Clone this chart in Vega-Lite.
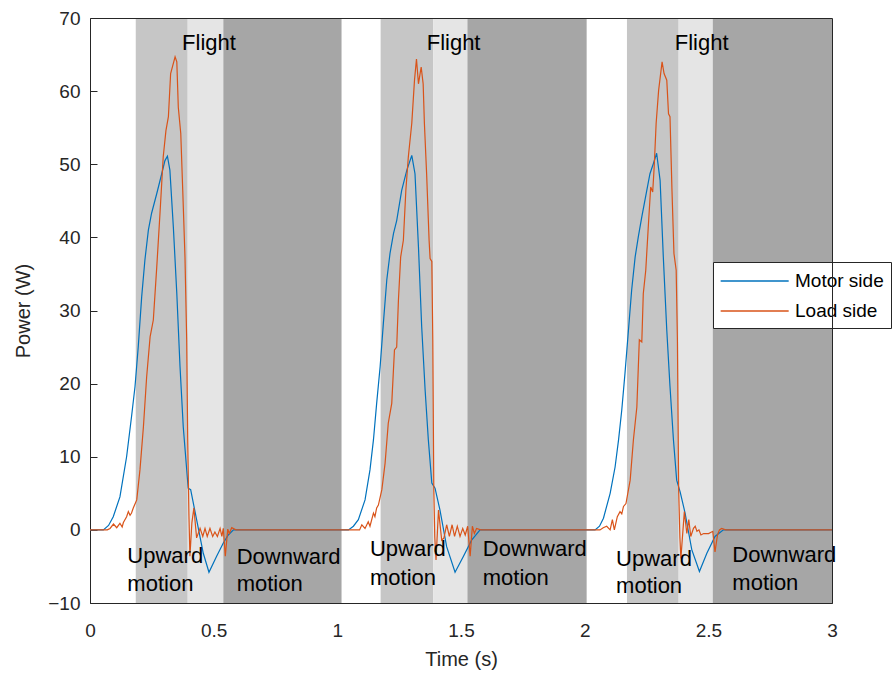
{
  "$schema": "https://vega.github.io/schema/vega-lite/v6.json",
  "width": 742,
  "height": 585,
  "autosize": {"type": "none"},
  "padding": {"left": 90, "top": 18, "right": 61, "bottom": 70},
  "background": "white",
  "config": {
    "font": "Liberation Sans",
    "view": {"stroke": null},
    "axis": {
      "labelFont": "Liberation Sans",
      "titleFont": "Liberation Sans",
      "labelFontSize": 19,
      "titleFontSize": 20,
      "titleFontWeight": "normal",
      "labelColor": "#262626",
      "titleColor": "#262626",
      "domainColor": "#262626",
      "tickColor": "#262626",
      "labelFlush": false,
      "grid": false
    }
  },
  "datasets": {
    "phases": [
      {"start": 0.185, "end": 0.395, "phase": "up"},
      {"start": 0.395, "end": 0.539, "phase": "flight"},
      {"start": 0.539, "end": 1.017, "phase": "down"},
      {"start": 1.175, "end": 1.388, "phase": "up"},
      {"start": 1.388, "end": 1.526, "phase": "flight"},
      {"start": 1.526, "end": 2.008, "phase": "down"},
      {"start": 2.171, "end": 2.380, "phase": "up"},
      {"start": 2.380, "end": 2.518, "phase": "flight"},
      {"start": 2.518, "end": 3.0, "phase": "down"}
    ],
    "power": [
      {"t": 0.0, "p": 0, "side": "Motor side"},
      {"t": 0.054, "p": 0, "side": "Motor side"},
      {"t": 0.075, "p": 0.6, "side": "Motor side"},
      {"t": 0.094, "p": 1.8, "side": "Motor side"},
      {"t": 0.121, "p": 4.5, "side": "Motor side"},
      {"t": 0.148, "p": 10.0, "side": "Motor side"},
      {"t": 0.168, "p": 15.5, "side": "Motor side"},
      {"t": 0.182, "p": 19.6, "side": "Motor side"},
      {"t": 0.195, "p": 25.0, "side": "Motor side"},
      {"t": 0.209, "p": 31.9, "side": "Motor side"},
      {"t": 0.222, "p": 36.9, "side": "Motor side"},
      {"t": 0.236, "p": 41.0, "side": "Motor side"},
      {"t": 0.249, "p": 43.3, "side": "Motor side"},
      {"t": 0.270, "p": 46.0, "side": "Motor side"},
      {"t": 0.290, "p": 48.7, "side": "Motor side"},
      {"t": 0.303, "p": 50.5, "side": "Motor side"},
      {"t": 0.313, "p": 51.1, "side": "Motor side"},
      {"t": 0.323, "p": 49.2, "side": "Motor side"},
      {"t": 0.337, "p": 41.4, "side": "Motor side"},
      {"t": 0.351, "p": 32.3, "side": "Motor side"},
      {"t": 0.364, "p": 22.3, "side": "Motor side"},
      {"t": 0.377, "p": 14.1, "side": "Motor side"},
      {"t": 0.397, "p": 5.7, "side": "Motor side"},
      {"t": 0.407, "p": 5.5, "side": "Motor side"},
      {"t": 0.431, "p": 1.4, "side": "Motor side"},
      {"t": 0.458, "p": -3.2, "side": "Motor side"},
      {"t": 0.481, "p": -5.8, "side": "Motor side"},
      {"t": 0.512, "p": -3.6, "side": "Motor side"},
      {"t": 0.539, "p": -1.8, "side": "Motor side"},
      {"t": 0.559, "p": -0.7, "side": "Motor side"},
      {"t": 0.580, "p": 0, "side": "Motor side"},
      {"t": 1.045, "p": 0, "side": "Motor side"},
      {"t": 1.065, "p": 0.5, "side": "Motor side"},
      {"t": 1.085, "p": 1.4, "side": "Motor side"},
      {"t": 1.112, "p": 4.1, "side": "Motor side"},
      {"t": 1.132, "p": 8.2, "side": "Motor side"},
      {"t": 1.146, "p": 12.3, "side": "Motor side"},
      {"t": 1.159, "p": 17.3, "side": "Motor side"},
      {"t": 1.173, "p": 22.3, "side": "Motor side"},
      {"t": 1.186, "p": 28.2, "side": "Motor side"},
      {"t": 1.200, "p": 34.2, "side": "Motor side"},
      {"t": 1.213, "p": 37.8, "side": "Motor side"},
      {"t": 1.227, "p": 40.5, "side": "Motor side"},
      {"t": 1.240, "p": 42.3, "side": "Motor side"},
      {"t": 1.260, "p": 46.4, "side": "Motor side"},
      {"t": 1.281, "p": 49.2, "side": "Motor side"},
      {"t": 1.301, "p": 51.2, "side": "Motor side"},
      {"t": 1.314, "p": 48.7, "side": "Motor side"},
      {"t": 1.328, "p": 38.7, "side": "Motor side"},
      {"t": 1.341, "p": 27.8, "side": "Motor side"},
      {"t": 1.355, "p": 19.1, "side": "Motor side"},
      {"t": 1.368, "p": 12.3, "side": "Motor side"},
      {"t": 1.382, "p": 6.4, "side": "Motor side"},
      {"t": 1.395, "p": 5.7, "side": "Motor side"},
      {"t": 1.415, "p": 2.7, "side": "Motor side"},
      {"t": 1.442, "p": -2.3, "side": "Motor side"},
      {"t": 1.476, "p": -5.8, "side": "Motor side"},
      {"t": 1.510, "p": -3.6, "side": "Motor side"},
      {"t": 1.543, "p": -1.4, "side": "Motor side"},
      {"t": 1.577, "p": 0, "side": "Motor side"},
      {"t": 2.042, "p": 0, "side": "Motor side"},
      {"t": 2.060, "p": 0.5, "side": "Motor side"},
      {"t": 2.076, "p": 1.6, "side": "Motor side"},
      {"t": 2.103, "p": 5.0, "side": "Motor side"},
      {"t": 2.123, "p": 8.6, "side": "Motor side"},
      {"t": 2.137, "p": 12.3, "side": "Motor side"},
      {"t": 2.150, "p": 16.4, "side": "Motor side"},
      {"t": 2.163, "p": 21.4, "side": "Motor side"},
      {"t": 2.177, "p": 27.3, "side": "Motor side"},
      {"t": 2.190, "p": 32.8, "side": "Motor side"},
      {"t": 2.204, "p": 37.3, "side": "Motor side"},
      {"t": 2.217, "p": 40.1, "side": "Motor side"},
      {"t": 2.231, "p": 42.8, "side": "Motor side"},
      {"t": 2.251, "p": 46.4, "side": "Motor side"},
      {"t": 2.264, "p": 48.7, "side": "Motor side"},
      {"t": 2.278, "p": 50.1, "side": "Motor side"},
      {"t": 2.291, "p": 51.5, "side": "Motor side"},
      {"t": 2.305, "p": 47.8, "side": "Motor side"},
      {"t": 2.318, "p": 37.3, "side": "Motor side"},
      {"t": 2.332, "p": 27.3, "side": "Motor side"},
      {"t": 2.345, "p": 19.6, "side": "Motor side"},
      {"t": 2.359, "p": 12.3, "side": "Motor side"},
      {"t": 2.372, "p": 6.8, "side": "Motor side"},
      {"t": 2.386, "p": 5.2, "side": "Motor side"},
      {"t": 2.406, "p": 2.3, "side": "Motor side"},
      {"t": 2.433, "p": -2.7, "side": "Motor side"},
      {"t": 2.464, "p": -5.7, "side": "Motor side"},
      {"t": 2.494, "p": -3.2, "side": "Motor side"},
      {"t": 2.527, "p": -0.9, "side": "Motor side"},
      {"t": 2.561, "p": 0, "side": "Motor side"},
      {"t": 3.0, "p": 0, "side": "Motor side"},

      {"t": 0.0, "p": 0, "side": "Load side"},
      {"t": 0.070, "p": 0, "side": "Load side"},
      {"t": 0.081, "p": 0.2, "side": "Load side"},
      {"t": 0.095, "p": 0.8, "side": "Load side"},
      {"t": 0.108, "p": 0.3, "side": "Load side"},
      {"t": 0.121, "p": 0.9, "side": "Load side"},
      {"t": 0.130, "p": 0.4, "side": "Load side"},
      {"t": 0.135, "p": 1.0, "side": "Load side"},
      {"t": 0.148, "p": 1.8, "side": "Load side"},
      {"t": 0.155, "p": 2.5, "side": "Load side"},
      {"t": 0.162, "p": 2.0, "side": "Load side"},
      {"t": 0.168, "p": 2.3, "side": "Load side"},
      {"t": 0.175, "p": 3.0, "side": "Load side"},
      {"t": 0.189, "p": 4.1, "side": "Load side"},
      {"t": 0.202, "p": 8.2, "side": "Load side"},
      {"t": 0.216, "p": 14.1, "side": "Load side"},
      {"t": 0.229, "p": 20.9, "side": "Load side"},
      {"t": 0.243, "p": 26.4, "side": "Load side"},
      {"t": 0.256, "p": 28.7, "side": "Load side"},
      {"t": 0.270, "p": 36.0, "side": "Load side"},
      {"t": 0.283, "p": 43.3, "side": "Load side"},
      {"t": 0.296, "p": 51.0, "side": "Load side"},
      {"t": 0.307, "p": 54.6, "side": "Load side"},
      {"t": 0.317, "p": 56.5, "side": "Load side"},
      {"t": 0.326, "p": 62.4, "side": "Load side"},
      {"t": 0.344, "p": 64.7, "side": "Load side"},
      {"t": 0.351, "p": 64.0, "side": "Load side"},
      {"t": 0.357, "p": 57.8, "side": "Load side"},
      {"t": 0.367, "p": 54.2, "side": "Load side"},
      {"t": 0.375, "p": 46.4, "side": "Load side"},
      {"t": 0.384, "p": 37.3, "side": "Load side"},
      {"t": 0.391, "p": 26.0, "side": "Load side"},
      {"t": 0.395, "p": 12.3, "side": "Load side"},
      {"t": 0.400, "p": 2.0, "side": "Load side"},
      {"t": 0.404, "p": -3.6, "side": "Load side"},
      {"t": 0.412, "p": 1.0, "side": "Load side"},
      {"t": 0.420, "p": 3.0, "side": "Load side"},
      {"t": 0.431, "p": -1.1, "side": "Load side"},
      {"t": 0.445, "p": 0.2, "side": "Load side"},
      {"t": 0.456, "p": -0.9, "side": "Load side"},
      {"t": 0.465, "p": 0.2, "side": "Load side"},
      {"t": 0.474, "p": -0.9, "side": "Load side"},
      {"t": 0.485, "p": 0.2, "side": "Load side"},
      {"t": 0.496, "p": -0.9, "side": "Load side"},
      {"t": 0.505, "p": -0.3, "side": "Load side"},
      {"t": 0.515, "p": -0.9, "side": "Load side"},
      {"t": 0.526, "p": 0.2, "side": "Load side"},
      {"t": 0.533, "p": -0.9, "side": "Load side"},
      {"t": 0.539, "p": 0.2, "side": "Load side"},
      {"t": 0.547, "p": -3.6, "side": "Load side"},
      {"t": 0.557, "p": 0.1, "side": "Load side"},
      {"t": 0.563, "p": -0.5, "side": "Load side"},
      {"t": 0.573, "p": 0.3, "side": "Load side"},
      {"t": 0.590, "p": 0, "side": "Load side"},
      {"t": 1.090, "p": 0, "side": "Load side"},
      {"t": 1.099, "p": 0.7, "side": "Load side"},
      {"t": 1.112, "p": 0.2, "side": "Load side"},
      {"t": 1.125, "p": 1.1, "side": "Load side"},
      {"t": 1.132, "p": 0.5, "side": "Load side"},
      {"t": 1.146, "p": 2.3, "side": "Load side"},
      {"t": 1.152, "p": 1.8, "side": "Load side"},
      {"t": 1.159, "p": 3.0, "side": "Load side"},
      {"t": 1.166, "p": 3.4, "side": "Load side"},
      {"t": 1.180, "p": 5.5, "side": "Load side"},
      {"t": 1.193, "p": 9.1, "side": "Load side"},
      {"t": 1.206, "p": 14.6, "side": "Load side"},
      {"t": 1.220, "p": 17.3, "side": "Load side"},
      {"t": 1.231, "p": 24.6, "side": "Load side"},
      {"t": 1.240, "p": 25.0, "side": "Load side"},
      {"t": 1.247, "p": 31.4, "side": "Load side"},
      {"t": 1.256, "p": 37.3, "side": "Load side"},
      {"t": 1.267, "p": 39.6, "side": "Load side"},
      {"t": 1.277, "p": 46.4, "side": "Load side"},
      {"t": 1.287, "p": 51.0, "side": "Load side"},
      {"t": 1.301, "p": 55.6, "side": "Load side"},
      {"t": 1.312, "p": 61.5, "side": "Load side"},
      {"t": 1.320, "p": 64.4, "side": "Load side"},
      {"t": 1.328, "p": 61.0, "side": "Load side"},
      {"t": 1.339, "p": 63.3, "side": "Load side"},
      {"t": 1.347, "p": 61.0, "side": "Load side"},
      {"t": 1.352, "p": 55.6, "side": "Load side"},
      {"t": 1.361, "p": 48.7, "side": "Load side"},
      {"t": 1.371, "p": 39.6, "side": "Load side"},
      {"t": 1.375, "p": 37.1, "side": "Load side"},
      {"t": 1.382, "p": 36.7, "side": "Load side"},
      {"t": 1.386, "p": 26.0, "side": "Load side"},
      {"t": 1.390, "p": 5.5, "side": "Load side"},
      {"t": 1.394, "p": -1.0, "side": "Load side"},
      {"t": 1.399, "p": -4.1, "side": "Load side"},
      {"t": 1.409, "p": 2.7, "side": "Load side"},
      {"t": 1.422, "p": -1.4, "side": "Load side"},
      {"t": 1.431, "p": -1.1, "side": "Load side"},
      {"t": 1.442, "p": 0.7, "side": "Load side"},
      {"t": 1.453, "p": -0.9, "side": "Load side"},
      {"t": 1.464, "p": 0.7, "side": "Load side"},
      {"t": 1.474, "p": -0.9, "side": "Load side"},
      {"t": 1.485, "p": 0.5, "side": "Load side"},
      {"t": 1.496, "p": -0.9, "side": "Load side"},
      {"t": 1.507, "p": 0.2, "side": "Load side"},
      {"t": 1.517, "p": -0.7, "side": "Load side"},
      {"t": 1.527, "p": 0.5, "side": "Load side"},
      {"t": 1.537, "p": -3.6, "side": "Load side"},
      {"t": 1.546, "p": 0.5, "side": "Load side"},
      {"t": 1.554, "p": -0.5, "side": "Load side"},
      {"t": 1.563, "p": 0.2, "side": "Load side"},
      {"t": 1.580, "p": 0, "side": "Load side"},
      {"t": 2.050, "p": 0, "side": "Load side"},
      {"t": 2.062, "p": 0, "side": "Load side"},
      {"t": 2.075, "p": 0.3, "side": "Load side"},
      {"t": 2.089, "p": 0.5, "side": "Load side"},
      {"t": 2.103, "p": 0, "side": "Load side"},
      {"t": 2.112, "p": 1.4, "side": "Load side"},
      {"t": 2.120, "p": 0, "side": "Load side"},
      {"t": 2.132, "p": 1.8, "side": "Load side"},
      {"t": 2.143, "p": 2.5, "side": "Load side"},
      {"t": 2.150, "p": 2.2, "side": "Load side"},
      {"t": 2.157, "p": 3.2, "side": "Load side"},
      {"t": 2.167, "p": 3.6, "side": "Load side"},
      {"t": 2.184, "p": 6.8, "side": "Load side"},
      {"t": 2.197, "p": 12.3, "side": "Load side"},
      {"t": 2.211, "p": 16.8, "side": "Load side"},
      {"t": 2.221, "p": 26.0, "side": "Load side"},
      {"t": 2.231, "p": 25.7, "side": "Load side"},
      {"t": 2.237, "p": 32.3, "side": "Load side"},
      {"t": 2.247, "p": 35.5, "side": "Load side"},
      {"t": 2.258, "p": 41.9, "side": "Load side"},
      {"t": 2.267, "p": 46.9, "side": "Load side"},
      {"t": 2.275, "p": 46.2, "side": "Load side"},
      {"t": 2.281, "p": 49.6, "side": "Load side"},
      {"t": 2.289, "p": 55.6, "side": "Load side"},
      {"t": 2.299, "p": 60.1, "side": "Load side"},
      {"t": 2.313, "p": 64.0, "side": "Load side"},
      {"t": 2.321, "p": 62.4, "side": "Load side"},
      {"t": 2.332, "p": 61.5, "side": "Load side"},
      {"t": 2.339, "p": 56.9, "side": "Load side"},
      {"t": 2.345, "p": 56.5, "side": "Load side"},
      {"t": 2.353, "p": 46.4, "side": "Load side"},
      {"t": 2.361, "p": 37.8, "side": "Load side"},
      {"t": 2.370, "p": 35.5, "side": "Load side"},
      {"t": 2.375, "p": 26.0, "side": "Load side"},
      {"t": 2.380, "p": 5.5, "side": "Load side"},
      {"t": 2.385, "p": -1.0, "side": "Load side"},
      {"t": 2.389, "p": -3.9, "side": "Load side"},
      {"t": 2.403, "p": 2.5, "side": "Load side"},
      {"t": 2.413, "p": -0.5, "side": "Load side"},
      {"t": 2.421, "p": 1.4, "side": "Load side"},
      {"t": 2.429, "p": -0.9, "side": "Load side"},
      {"t": 2.440, "p": 0.2, "side": "Load side"},
      {"t": 2.447, "p": 0.5, "side": "Load side"},
      {"t": 2.454, "p": -0.2, "side": "Load side"},
      {"t": 2.462, "p": 0, "side": "Load side"},
      {"t": 2.470, "p": -0.7, "side": "Load side"},
      {"t": 2.481, "p": -0.5, "side": "Load side"},
      {"t": 2.501, "p": -0.5, "side": "Load side"},
      {"t": 2.518, "p": -0.2, "side": "Load side"},
      {"t": 2.527, "p": -3.0, "side": "Load side"},
      {"t": 2.537, "p": -0.7, "side": "Load side"},
      {"t": 2.545, "p": 0, "side": "Load side"},
      {"t": 2.554, "p": 0.2, "side": "Load side"},
      {"t": 2.570, "p": 0, "side": "Load side"},
      {"t": 3.0, "p": 0, "side": "Load side"}
    ],
    "flightLabels": [
      {"t": 0.481, "p": 65.6, "label": "Flight"},
      {"t": 1.470, "p": 65.6, "label": "Flight"},
      {"t": 2.473, "p": 65.6, "label": "Flight"}
    ],
    "motionLabels": [
      {"t": 0.151, "p": -4.5, "label": "Upward"},
      {"t": 0.151, "p": -8.3, "label": "motion"},
      {"t": 1.132, "p": -3.6, "label": "Upward"},
      {"t": 1.132, "p": -7.5, "label": "motion"},
      {"t": 2.127, "p": -4.9, "label": "Upward"},
      {"t": 2.127, "p": -8.6, "label": "motion"},
      {"t": 0.593, "p": -4.6, "label": "Downward"},
      {"t": 0.593, "p": -8.4, "label": "motion"},
      {"t": 1.588, "p": -3.6, "label": "Downward"},
      {"t": 1.588, "p": -7.5, "label": "motion"},
      {"t": 2.597, "p": -4.4, "label": "Downward"},
      {"t": 2.597, "p": -8.2, "label": "motion"}
    ]
  },
  "layer": [
    {
      "data": {"name": "phases"},
      "mark": {"type": "rect"},
      "encoding": {
        "x": {
          "field": "start",
          "type": "quantitative",
          "scale": {"domain": [0, 3], "nice": false},
          "axis": {
            "orient": "bottom",
            "title": "Time (s)",
            "values": [0, 0.5, 1, 1.5, 2, 2.5, 3],
            "format": "~g",
            "tickSize": -7,
            "labelPadding": 25,
            "titlePadding": 9,
            "zindex": 0
          }
        },
        "x2": {"field": "end"},
        "fill": {
          "field": "phase",
          "type": "nominal",
          "scale": {"domain": ["up", "flight", "down"], "range": ["#c6c6c6", "#e5e5e5", "#a6a6a6"]},
          "legend": null
        }
      }
    },
    {
      "data": {"name": "power"},
      "mark": {"type": "line", "strokeWidth": 1.2, "interpolate": "linear"},
      "encoding": {
        "x": {
          "field": "t",
          "type": "quantitative",
          "axis": {"orient": "top", "labels": false, "ticks": false, "title": null, "zindex": 1}
        },
        "y": {
          "field": "p",
          "type": "quantitative",
          "scale": {"domain": [-10, 70], "nice": false, "zero": false},
          "axis": {
            "orient": "left",
            "title": "Power (W)",
            "values": [-10, 0, 10, 20, 30, 40, 50, 60, 70],
            "tickSize": -7,
            "labelPadding": 17,
            "titlePadding": 14,
            "zindex": 0
          }
        },
        "color": {
          "field": "side",
          "type": "nominal",
          "scale": {"domain": ["Motor side", "Load side"], "range": ["#0072BD", "#D95319"]},
          "legend": {
            "orient": "none",
            "legendX": 623,
            "legendY": 244,
            "title": null,
            "symbolType": "M-1,0H5",
            "symbolSize": 514,
            "symbolStrokeWidth": 1.3,
            "labelFontSize": 19,
            "labelFont": "Liberation Sans",
            "labelColor": "#000000",
            "labelOffset": 51,
            "fillColor": "#ffffff",
            "strokeColor": "#262626",
            "padding": 7,
            "rowPadding": 8
          }
        }
      }
    },
    {
      "data": {"name": "power"},
      "transform": [{"filter": "datum.t < 0"}],
      "mark": {"type": "line"},
      "encoding": {
        "x": {"field": "t", "type": "quantitative", "axis": null},
        "y": {
          "field": "p",
          "type": "quantitative",
          "axis": {"orient": "right", "labels": false, "ticks": false, "title": null, "zindex": 1}
        }
      }
    },
    {
      "data": {"name": "flightLabels"},
      "mark": {"type": "text", "align": "center", "baseline": "alphabetic", "fontSize": 22, "font": "Liberation Sans", "color": "#000000"},
      "encoding": {
        "x": {"field": "t", "type": "quantitative", "axis": null},
        "y": {"field": "p", "type": "quantitative", "axis": null},
        "text": {"field": "label"}
      }
    },
    {
      "data": {"name": "motionLabels"},
      "mark": {"type": "text", "align": "left", "baseline": "alphabetic", "fontSize": 22, "font": "Liberation Sans", "color": "#000000"},
      "encoding": {
        "x": {"field": "t", "type": "quantitative", "axis": null},
        "y": {"field": "p", "type": "quantitative", "axis": null},
        "text": {"field": "label"}
      }
    }
  ]
}
